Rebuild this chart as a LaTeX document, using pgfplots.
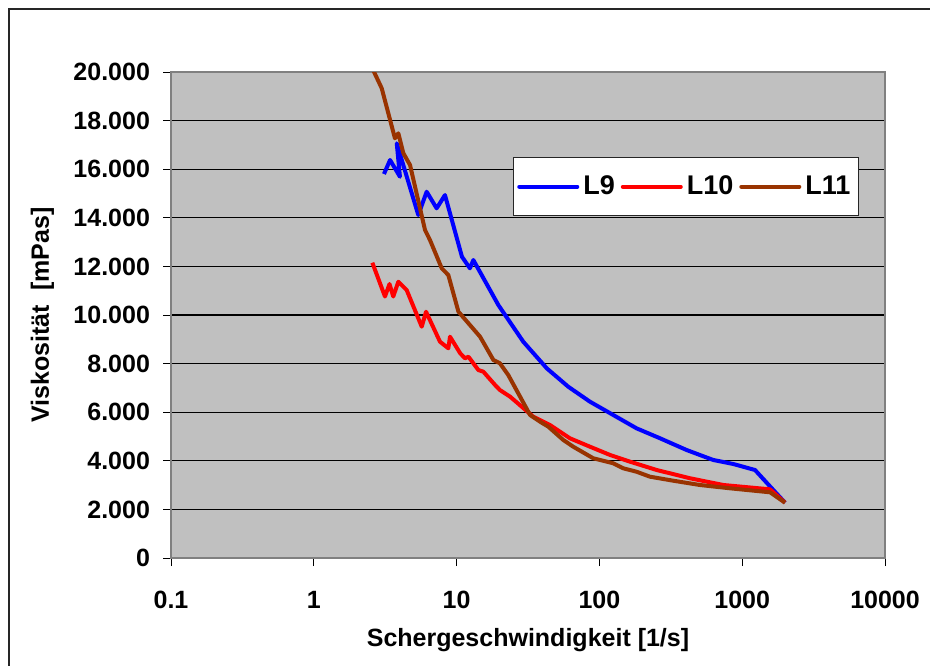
\documentclass[border=0pt]{standalone}
\usepackage{fontspec}
\setmainfont{Liberation Sans}
\usepackage{pgfplots}
\pgfplotsset{compat=1.18}
\definecolor{plotbg}{HTML}{C0C0C0}
\definecolor{lnine}{HTML}{0000FF}
\definecolor{lten}{HTML}{FF0000}
\definecolor{leleven}{HTML}{993300}

\begin{document}
\begin{tikzpicture}
\useasboundingbox (0,0) rectangle (465pt,332.5pt);
\fill[white] (0,0) rectangle (465pt,332.5pt);
% outer chart frame (right and bottom edges fall outside the picture)
\draw[black!85, line width=0.8pt] (4.5pt,-2pt) -- (4.5pt,328pt) -- (467pt,328pt);
\begin{axis}[
  at={(85.5pt,53.5pt)}, anchor=south west,
  scale only axis,
  width=357pt, height=243pt,
  xmode=log,
  xmin=0.1, xmax=10000,
  ymin=0, ymax=20000,
  xtick={0.1,1,10,100,1000,10000},
  xticklabels={0.1,1,10,100,1000,10000},
  xminorticks=false,
  scaled y ticks=false,
  ytick={0,2000,...,20000},
  yticklabels={0,2.000,4.000,6.000,8.000,10.000,12.000,14.000,16.000,18.000,20.000},
  xtick pos=left, ytick pos=left,
  tick align=outside,
  major tick length=4pt,
  tick style={black, line width=0.5pt},
  ymajorgrids,
  major grid style={black, line width=0.6pt},
  axis background/.style={fill=plotbg},
  axis line style={draw=black!50, line width=1pt},
  tick label style={font=\bfseries\fontsize{12.5}{14}\selectfont},
  xticklabel style={yshift=-9pt},
  yticklabel style={xshift=-3pt},
  xlabel={Schergeschwindigkeit [1/s]},
  ylabel={Viskosität\ \ [mPas]},
  every axis x label/.style={at={(axis description cs:0.5,-0.169)}, anchor=center,
    font=\bfseries\fontsize{12.5}{14}\selectfont},
  every axis y label/.style={at={(axis description cs:-0.18,0.5)}, rotate=90, anchor=center,
    font=\bfseries\fontsize{12.5}{14}\selectfont},
  legend columns=3,
  legend style={at={(0.721,0.764)}, anchor=center, draw=black!85, fill=white,
    font=\bfseries\fontsize{13.5}{16}\selectfont, inner xsep=2pt, inner ysep=7pt,
    line width=0.6pt,
    /tikz/every even column/.append style={column sep=1pt}},
  legend image code/.code={\draw[#1, line cap=round] (0pt,0pt) -- (29pt,0pt);},
  every axis plot/.append style={line width=2pt, line join=round},
  clip=true,
]
\addplot[lnine] coordinates {
(3.10,15802) (3.42,16378) (4.01,15690) (3.81,17065) (5.39,14114)
(6.17,15073) (7.25,14390) (8.29,14937) (10.9,12398) (12.4,11921)
(13.1,12263) (19.6,10411) (29.3,8901) (42.8,7806) (60.5,7049)
(85.9,6432) (125,5885) (182,5337) (266,4926) (408,4444)
(506,4238) (628,4033) (867,3868) (1230,3621) (1652,2798) (1995,2277)
};
\addlegendentry{L9}
\addplot[lten] coordinates {
(2.57,12152) (3.15,10761) (3.39,11275) (3.60,10761) (3.91,11370)
(4.47,11028) (5.70,9518) (6.11,10135) (7.65,8901) (8.75,8629)
(8.99,9107) (10.6,8424) (11.45,8218) (12.1,8284) (14.2,7736)
(15.4,7666) (18.6,7119) (20.1,6913) (23.7,6638) (28.6,6226)
(34.4,5815) (45.1,5473) (62.2,4926) (85.9,4580) (119,4238)
(164,3963) (252,3621) (432,3280) (738,3004) (1567,2826) (1995,2277)
};
\addlegendentry{L10}
\addplot[leleven] coordinates {
(2.50,20300) (2.99,19330) (3.70,17270) (3.91,17477) (4.24,16654)
(4.72,16172) (6.01,13497) (6.51,13086) (7.87,11921) (8.75,11645)
(10.3,10135) (14.6,9106) (18.1,8148) (20.1,8012) (23.0,7530)
(32.7,5885) (38.4,5609) (43.9,5403) (55.9,4856) (65.6,4580)
(90.6,4103) (125,3897) (147,3691) (182,3551) (226,3346)
(329,3181) (506,3004) (822,2868) (1567,2704) (1995,2277)
};
\addlegendentry{L11}
\end{axis}
\end{tikzpicture}
\end{document}
